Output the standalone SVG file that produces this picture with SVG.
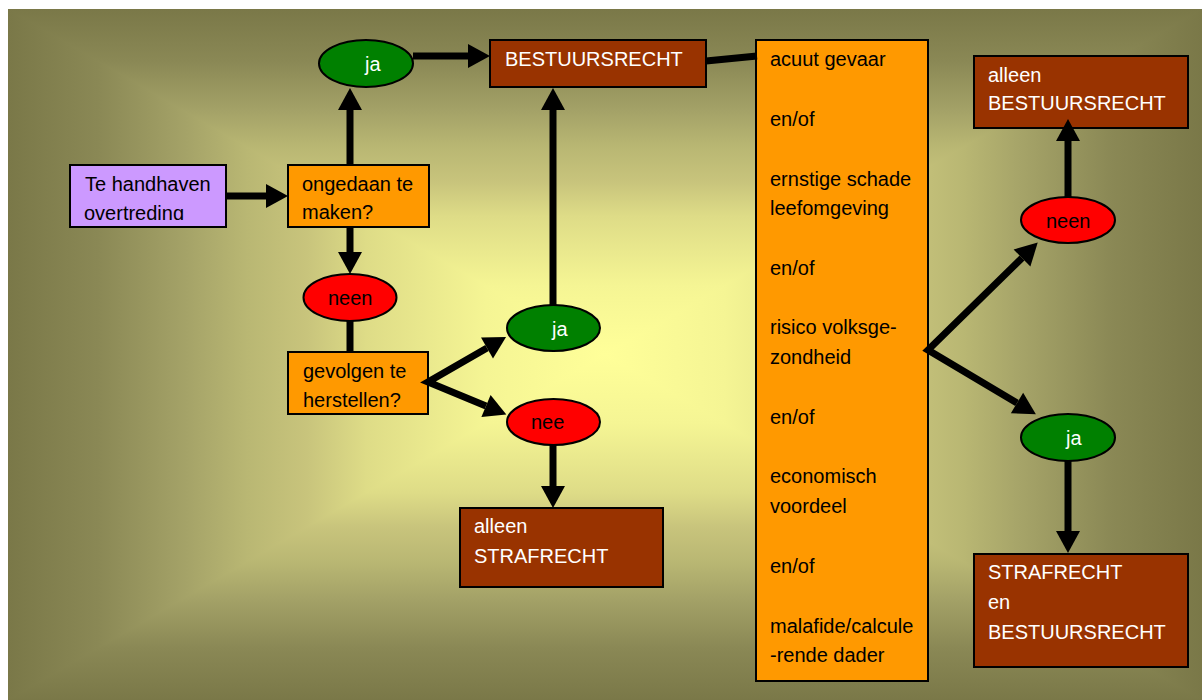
<svg xmlns="http://www.w3.org/2000/svg" xmlns:xlink="http://www.w3.org/1999/xlink" width="1202" height="700" viewBox="0 0 1202 700">
  <defs>
    <style>
      .t { font-family: "Liberation Sans", Arial, sans-serif; font-size: 20px; }
      .dark { fill: #000000; }
      .light { fill: #ffffff; }
      .box { stroke: #000000; stroke-width: 2; }
      .orange { fill: #ff9900; }
      .brown { fill: #993300; }
      .purple { fill: #cc99ff; }
      .green { fill: #008000; }
      .red { fill: #ff0000; }
      .wire { fill: none; stroke: #000000; stroke-width: 7; }
      .head { marker-end: url(#arrow); }
      .fork { marker-start: url(#arrow); marker-end: url(#arrow); stroke-linejoin: miter; stroke-miterlimit: 10; }
    </style>
    <!-- rectangular "from centre" shading built from a horizontal and a vertical band -->
    <linearGradient id="shadeX" gradientUnits="userSpaceOnUse" x1="8" y1="0" x2="1202" y2="0">
      <stop offset="0" stop-color="#7a7848"/>
      <stop offset="0.075" stop-color="#8a8855"/>
      <stop offset="0.15" stop-color="#a5a368"/>
      <stop offset="0.2" stop-color="#b9b773"/>
      <stop offset="0.25" stop-color="#c8c47c"/>
      <stop offset="0.3" stop-color="#dedc87"/>
      <stop offset="0.4" stop-color="#f5f594"/>
      <stop offset="0.5" stop-color="#ffff99"/>
      <stop offset="0.6" stop-color="#f5f594"/>
      <stop offset="0.7" stop-color="#dedc87"/>
      <stop offset="0.75" stop-color="#c8c47c"/>
      <stop offset="0.8" stop-color="#b9b773"/>
      <stop offset="0.85" stop-color="#a5a368"/>
      <stop offset="0.925" stop-color="#8a8855"/>
      <stop offset="1" stop-color="#7a7848"/>
    </linearGradient>
    <linearGradient id="shadeY" xlink:href="#shadeX" gradientUnits="userSpaceOnUse" x1="0" y1="9" x2="0" y2="700"/>
    <marker id="arrow" markerUnits="userSpaceOnUse" markerWidth="24" markerHeight="24" refX="0" refY="12" orient="auto-start-reverse" overflow="visible">
      <path d="M0,0 L22,12 L0,24 Z" fill="#000000"/>
    </marker>
    <clipPath id="clipPurple">
      <rect x="70" y="166" width="156" height="54"/>
    </clipPath>
  </defs>

  <!-- background -->
  <g id="background">
    <rect x="8" y="9" width="1194" height="691" fill="url(#shadeX)"/>
    <polygon points="8,9 1202,9 605,354.5" fill="url(#shadeY)"/>
    <polygon points="8,700 1202,700 605,354.5" fill="url(#shadeY)"/>
  </g>

  <!-- nodes -->
  <g id="overtreding">
    <rect class="box purple" x="70" y="165" width="156" height="62"/>
    <g clip-path="url(#clipPurple)">
      <text class="t dark" x="85" y="191">Te handhaven</text>
      <text class="t dark" x="84" y="219.5">overtreding</text>
    </g>
  </g>

  <g id="ongedaan">
    <rect class="box orange" x="288" y="165" width="141" height="62"/>
    <text class="t dark" x="302" y="191">ongedaan te</text>
    <text class="t dark" x="302" y="219">maken?</text>
  </g>

  <g id="ja-boven">
    <ellipse class="box green" cx="366" cy="63.5" rx="47" ry="23.5"/>
    <text class="t light" x="365" y="71">ja</text>
  </g>

  <g id="neen-links">
    <ellipse class="box red" cx="350" cy="297.5" rx="46.5" ry="23.5"/>
    <text class="t dark" x="328" y="305">neen</text>
  </g>

  <g id="gevolgen">
    <rect class="box orange" x="288" y="352" width="140" height="62"/>
    <text class="t dark" x="303" y="378">gevolgen te</text>
    <text class="t dark" x="303" y="407">herstellen?</text>
  </g>

  <g id="ja-midden">
    <ellipse class="box green" cx="553.5" cy="328" rx="46.5" ry="23"/>
    <text class="t light" x="552" y="336">ja</text>
  </g>

  <g id="nee-midden">
    <ellipse class="box red" cx="553.5" cy="422" rx="46.5" ry="23"/>
    <text class="t dark" x="531" y="429">nee</text>
  </g>

  <g id="alleen-strafrecht">
    <rect class="box brown" x="460" y="508" width="203" height="79"/>
    <text class="t light" x="474" y="533">alleen</text>
    <text class="t light" x="474" y="563">STRAFRECHT</text>
  </g>

  <g id="bestuursrecht">
    <rect class="box brown" x="490" y="40" width="216" height="47"/>
    <text class="t light" x="505" y="66">BESTUURSRECHT</text>
  </g>

  <g id="criteria">
    <rect class="box orange" x="756" y="40" width="172" height="641"/>
    <text class="t dark" x="770" y="66">acuut gevaar</text>
    <text class="t dark" x="770" y="126">en/of</text>
    <text class="t dark" x="770" y="186">ernstige schade</text>
    <text class="t dark" x="770" y="215">leefomgeving</text>
    <text class="t dark" x="770" y="275">en/of</text>
    <text class="t dark" x="770" y="334">risico volksge-</text>
    <text class="t dark" x="770" y="364">zondheid</text>
    <text class="t dark" x="770" y="424">en/of</text>
    <text class="t dark" x="770" y="483">economisch</text>
    <text class="t dark" x="770" y="513">voordeel</text>
    <text class="t dark" x="770" y="573">en/of</text>
    <text class="t dark" x="770" y="633">malafide/calcule</text>
    <text class="t dark" x="770" y="662">-rende dader</text>
  </g>

  <g id="neen-rechts">
    <ellipse class="box red" cx="1068" cy="220" rx="47" ry="23"/>
    <text class="t dark" x="1046" y="228">neen</text>
  </g>

  <g id="ja-rechts">
    <ellipse class="box green" cx="1068" cy="437.5" rx="47" ry="23.5"/>
    <text class="t light" x="1066" y="445">ja</text>
  </g>

  <g id="alleen-bestuursrecht">
    <rect class="box brown" x="974" y="56" width="214" height="72"/>
    <text class="t light" x="988" y="82">alleen</text>
    <text class="t light" x="988" y="110">BESTUURSRECHT</text>
  </g>

  <g id="straf-en-bestuur">
    <rect class="box brown" x="974" y="554" width="214" height="113"/>
    <text class="t light" x="988" y="579">STRAFRECHT</text>
    <text class="t light" x="988" y="609">en</text>
    <text class="t light" x="988" y="639">BESTUURSRECHT</text>
  </g>

  <!-- connectors -->
  <g id="connectors">
    <line class="wire head" x1="227" y1="196" x2="266" y2="196"/>
    <line class="wire head" x1="350" y1="165" x2="350" y2="110"/>
    <line class="wire head" x1="350" y1="227" x2="350" y2="252"/>
    <line class="wire" x1="350" y1="321" x2="350" y2="352"/>
    <line class="wire head" x1="413" y1="56" x2="468" y2="56"/>
    <path class="wire fork" d="M487,348 L428,382 L486,406"/>
    <line class="wire head" x1="553" y1="305" x2="553" y2="110"/>
    <line class="wire head" x1="553" y1="445" x2="553" y2="486"/>
    <line class="wire" x1="706" y1="61" x2="757" y2="56"/>
    <path class="wire fork" d="M1022,258 L928,350 L1017,403"/>
    <line class="wire head" x1="1068" y1="197" x2="1068" y2="141"/>
    <line class="wire head" x1="1068" y1="461" x2="1068" y2="531"/>
  </g>
</svg>
